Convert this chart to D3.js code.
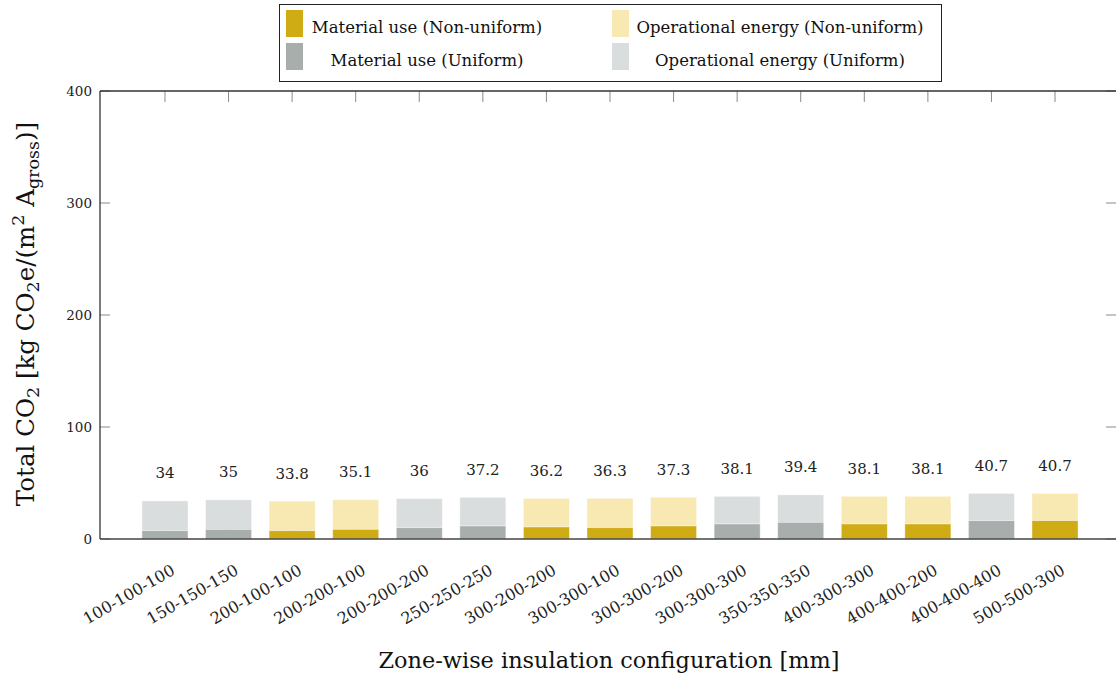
<!DOCTYPE html>
<html>
<head>
<meta charset="utf-8">
<script src="https://cdn.jsdelivr.net/npm/d3@7"></script>
<style>
  html, body { margin: 0; padding: 0; background: #fff; }
  svg { display: block; font-family: "DejaVu Serif", serif; }
</style>
</head>
<body>
<svg id="chart" width="1116" height="677"></svg>
<script>
// Insulation configurations (zone thicknesses in mm)
const categories = [
  "100-100-100", "150-150-150", "200-100-100", "200-200-100", "200-200-200",
  "250-250-250", "300-200-200", "300-300-100", "300-300-200", "300-300-300",
  "350-350-350", "400-300-300", "400-400-200", "400-400-400", "500-500-300"
];
// Whether each configuration uses the same thickness in every zone
const uniform = [true, true, false, false, true, true, false, false, false, true, true, false, false, true, false];
// Embodied CO2 from material use
const materialUse = [7.4, 8.6, 7.4, 8.6, 10.1, 11.6, 10.7, 10.1, 11.6, 13.4, 14.9, 13.4, 13.4, 16.4, 16.4];
// CO2 from operational energy
const operational = [26.6, 26.4, 26.4, 26.5, 25.9, 25.6, 25.5, 26.2, 25.7, 24.7, 24.5, 24.7, 24.7, 24.3, 24.3];
// Stated totals above each bar
const totals = [34, 35, 33.8, 35.1, 36, 37.2, 36.2, 36.3, 37.3, 38.1, 39.4, 38.1, 38.1, 40.7, 40.7];
const yTicks = [0, 100, 200, 300, 400];

const colors = {
  matNon: "#cfab14",
  opNon: "#f7e9b1",
  matUni: "#a7aeac",
  opUni: "#d9ddde"
};

const svg = d3.select("#chart");
const plotLeft = 100, plotRight = 1120, plotTop = 91, plotBottom = 539;

const x = d3.scaleBand().domain(categories).range([plotLeft, plotRight])
  .paddingInner(0.276).paddingOuter(0.66);
const y = d3.scaleLinear().domain([0, 400]).range([plotBottom, plotTop]);

const tickColor = "#8a8a8a";
const tickLen = 11;

// Inward ticks on all four sides
const g = svg.append("g");
yTicks.forEach(t => {
  g.append("line").attr("x1", plotLeft).attr("x2", plotLeft + 10).attr("y1", y(t)).attr("y2", y(t))
    .attr("stroke", tickColor).attr("stroke-width", 1);
  g.append("line").attr("x1", plotRight - 14).attr("x2", plotRight).attr("y1", y(t)).attr("y2", y(t))
    .attr("stroke", tickColor).attr("stroke-width", 1);
});
categories.forEach(c => {
  const cx = x(c) + x.bandwidth() / 2;
  g.append("line").attr("x1", cx).attr("x2", cx).attr("y1", plotTop).attr("y2", plotTop + tickLen)
    .attr("stroke", tickColor).attr("stroke-width", 1);
  g.append("line").attr("x1", cx).attr("x2", cx).attr("y1", plotBottom).attr("y2", plotBottom - tickLen)
    .attr("stroke", tickColor).attr("stroke-width", 1);
});

// Stacked bars: material use at the bottom, operational energy on top
const bars = svg.append("g");
categories.forEach((c, i) => {
  const bx = x(c), bw = x.bandwidth();
  const mat = materialUse[i];
  const tot = totals[i];
  bars.append("rect")
    .attr("x", bx).attr("width", bw)
    .attr("y", y(tot)).attr("height", y(mat) - y(tot))
    .attr("fill", uniform[i] ? colors.opUni : colors.opNon)
    .attr("stroke", "#ffffff").attr("stroke-opacity", 0.5).attr("stroke-width", 0.8);
  bars.append("rect")
    .attr("x", bx).attr("width", bw)
    .attr("y", y(mat)).attr("height", y(0) - y(mat))
    .attr("fill", uniform[i] ? colors.matUni : colors.matNon)
    .attr("stroke", "#ffffff").attr("stroke-opacity", 0.5).attr("stroke-width", 0.8);
});

// Total labels above each bar
svg.append("g").selectAll("text").data(categories).join("text")
  .attr("x", d => x(d) + x.bandwidth() / 2)
  .attr("y", (d, i) => y(totals[i]) - 22.5)
  .attr("text-anchor", "middle")
  .attr("font-size", 15)
  .attr("fill", "#222")
  .text((d, i) => totals[i]);

// Axis frame lines
svg.append("line").attr("x1", plotLeft).attr("x2", plotRight).attr("y1", plotTop).attr("y2", plotTop)
  .attr("stroke", "#333").attr("stroke-width", 1.3);
svg.append("line").attr("x1", plotLeft).attr("x2", plotLeft).attr("y1", plotTop).attr("y2", plotBottom)
  .attr("stroke", "#333").attr("stroke-width", 1.3);
svg.append("line").attr("x1", plotLeft).attr("x2", plotRight).attr("y1", plotBottom).attr("y2", plotBottom)
  .attr("stroke", "#444").attr("stroke-width", 1.3);

// Y tick labels
svg.append("g").selectAll("text").data(yTicks).join("text")
  .attr("x", 92).attr("y", d => y(d) + 5)
  .attr("text-anchor", "end").attr("font-size", 13.5).attr("fill", "#222")
  .text(d => d);

// X tick labels rotated 30 degrees
svg.append("g").selectAll("text").data(categories).join("text")
  .attr("text-anchor", "end")
  .attr("font-size", 16).attr("fill", "#222")
  .attr("transform", d => `translate(${x(d) + x.bandwidth() / 2 + 11},${plotBottom + 34.5}) rotate(-30)`)
  .text(d => d);

// Axis titles
svg.append("text")
  .attr("x", 609).attr("y", 668)
  .attr("text-anchor", "middle").attr("font-size", 22.4).attr("fill", "#111")
  .text("Zone-wise insulation configuration [mm]");

const yTitle = svg.append("text")
  .attr("transform", "translate(34,314) rotate(-90)")
  .attr("text-anchor", "middle").attr("font-size", 24.5).attr("fill", "#111");
yTitle.append("tspan").text("Total CO");
yTitle.append("tspan").attr("font-size", 17.5).attr("dy", 5).text("2");
yTitle.append("tspan").attr("dy", -5).text(" [kg CO");
yTitle.append("tspan").attr("font-size", 17.5).attr("dy", 5).text("2");
yTitle.append("tspan").attr("dy", -5).text("e/(m");
yTitle.append("tspan").attr("font-size", 17.5).attr("dy", -10).text("2");
yTitle.append("tspan").attr("dy", 10).text(" A");
yTitle.append("tspan").attr("font-size", 17.5).attr("dy", 5).text("gross");
yTitle.append("tspan").attr("dy", -5).text(")]");

// Legend
const legendItems = [
  { label: "Material use (Non-uniform)", color: colors.matNon, col: 0, row: 0 },
  { label: "Operational energy (Non-uniform)", color: colors.opNon, col: 1, row: 0 },
  { label: "Material use (Uniform)", color: colors.matUni, col: 0, row: 1 },
  { label: "Operational energy (Uniform)", color: colors.opUni, col: 1, row: 1 }
];
const legend = svg.append("g");
legend.append("rect").attr("x", 279.5).attr("y", 4.5).attr("width", 662).attr("height", 77)
  .attr("fill", "#fff").attr("stroke", "#222").attr("stroke-width", 1);
const colSwatchX = [286, 612];
const colTextCenter = [427, 780];
legendItems.forEach(it => {
  const sy = 10 + it.row * 33;
  legend.append("rect").attr("x", colSwatchX[it.col]).attr("y", sy)
    .attr("width", 17).attr("height", 27).attr("fill", it.color);
  legend.append("text").attr("x", colTextCenter[it.col]).attr("y", sy + 23)
    .attr("text-anchor", "middle").attr("font-size", 16.5).attr("fill", "#111")
    .text(it.label);
});
</script>
</body>
</html>
